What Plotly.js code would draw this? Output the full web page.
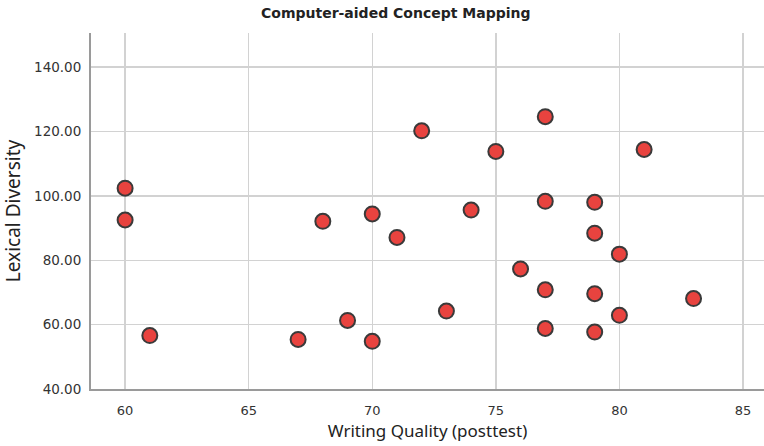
<!DOCTYPE html>
<html>
<head>
<meta charset="utf-8">
<script src="https://cdn.plot.ly/plotly-3.0.1.min.js"></script>
<style>html,body{margin:0;padding:0;background:#fff;}#chart{width:764px;height:446px;}</style>
</head>
<body>
<div id="chart"></div>
<script>
const writingQuality = [60, 60, 61, 67, 68, 69, 70, 70, 71, 72, 73, 74, 75, 76, 77, 77, 77, 77, 79, 79, 79, 79, 80, 80, 81, 83];
const lexicalDiversity = [102.4, 92.5, 56.6, 55.4, 92.1, 61.3, 94.4, 54.8, 87.1, 120.2, 64.2, 95.6, 113.8, 77.3, 124.6, 98.3, 70.8, 58.8, 98.0, 88.4, 69.6, 57.7, 81.9, 62.9, 114.4, 68.1];
const xTickVals = [60, 65, 70, 75, 80, 85];
const yTickVals = [40, 60, 80, 100, 120, 140];
const yTickText = yTickVals.map(v => v.toFixed(2));

const trace = {
  x: writingQuality,
  y: lexicalDiversity,
  type: 'scatter',
  mode: 'markers',
  marker: {size: 15, color: '#E8433F', line: {color: '#3a3a3a', width: 2}},
  hoverinfo: 'x+y'
};

const layout = {
  width: 764, height: 446,
  margin: {l: 91, r: 0, t: 33, b: 57},
  paper_bgcolor: '#fff', plot_bgcolor: '#fff',
  showlegend: false,
  title: {text: '<b>Computer-aided Concept Mapping</b>', font: {family: 'DejaVu Sans', size: 14, color: '#222'}, x: 0.518, xanchor: 'center', y: 0.97, yanchor: 'middle'},
  xaxis: {
    range: [58.62, 85.85], tickvals: xTickVals, ticktext: xTickVals.map(String),
    showgrid: true, gridcolor: '#d2d2d2', gridwidth: 1.5,
    zeroline: false, showline: true, linecolor: '#9a9a9a', linewidth: 2,
    ticks: '', ticklen: 0, ticklabelstandoff: 8,
    tickfont: {family: 'DejaVu Sans', size: 13, color: '#333'},
    title: {text: 'Writing Quality (posttest)', font: {family: 'Noto Sans', size: 17, color: '#222'}, standoff: 9}
  },
  yaxis: {
    range: [40, 150.6], tickvals: yTickVals, ticktext: yTickText,
    showgrid: true, gridcolor: '#d2d2d2', gridwidth: 1.5,
    zeroline: false, showline: true, linecolor: '#9a9a9a', linewidth: 2,
    ticks: '', ticklen: 0, ticklabelstandoff: 5,
    tickfont: {family: 'DejaVu Sans', size: 13.5, color: '#333'},
    title: {text: 'Lexical Diversity', font: {family: 'Noto Sans', size: 19, color: '#222'}, standoff: 8}
  }
};

Plotly.newPlot('chart', [trace], layout, {displayModeBar: false, staticPlot: true});
</script>
</body>
</html>
